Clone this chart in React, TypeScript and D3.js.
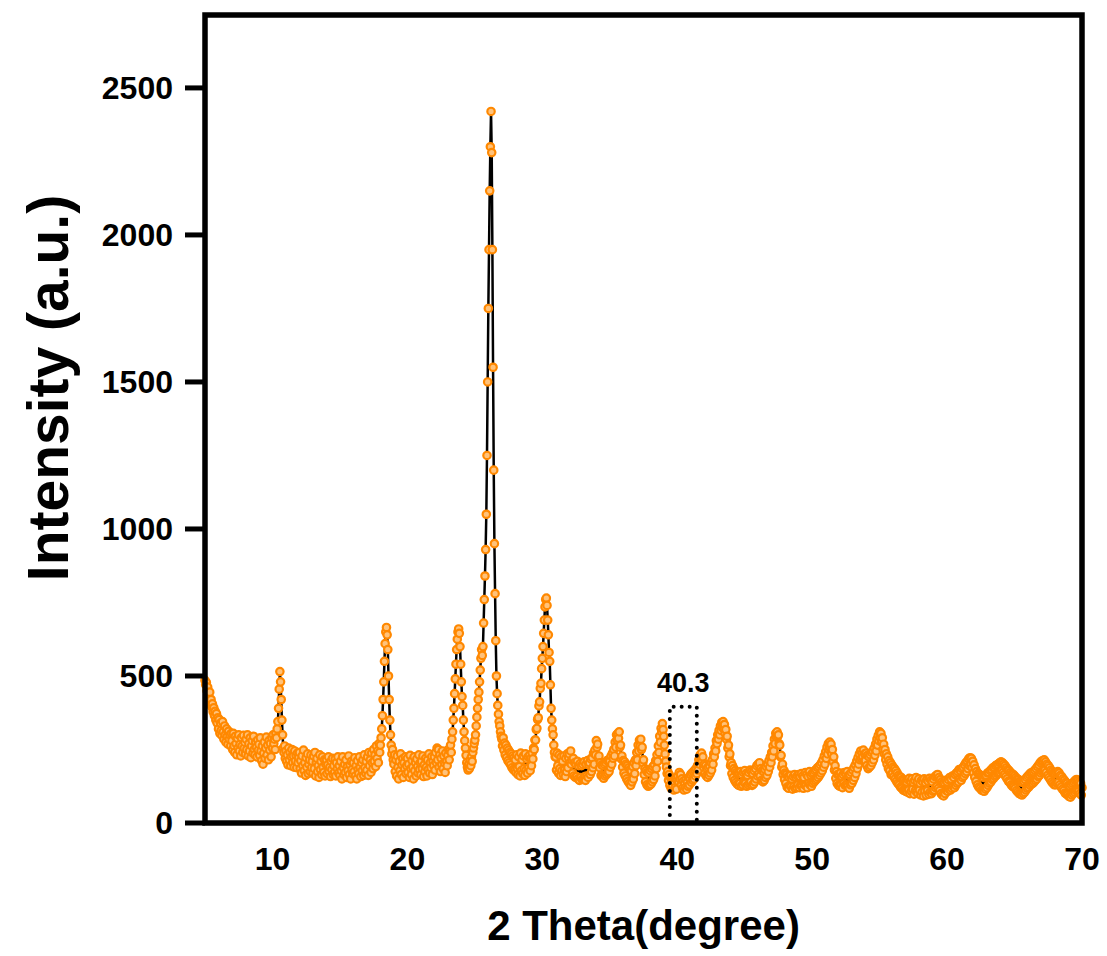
import React from 'react';
import * as d3 from 'd3';

// XRD scan, every 0.05 degree
const startAngle = 5;
const angleStep = 0.05;
const intensity: number[] = [
  // 5
  485, 470, 478, 450, 462, 440, 428, 445, 410, 420, 395, 405, 378, 392, 365, 380, 350, 372, 340, 358,
  // 6
  320, 352, 305, 340, 315, 298, 345, 310, 285, 330, 300, 275, 320, 295, 268, 312, 285, 300, 262, 305,
  // 7
  280, 250, 305, 262, 240, 295, 270, 232, 288, 255, 300, 245, 268, 228, 290, 262, 240, 298, 255, 275,
  // 8
  235, 285, 250, 300, 228, 270, 245, 290, 222, 262, 280, 238, 295, 250, 232, 275, 258, 225, 282, 248,
  // 9
  268, 230, 290, 245, 212, 262, 200, 238, 275, 220, 255, 292, 232, 265, 215, 280, 248, 270, 225, 290,
  // 10
  255, 300, 270, 285, 250, 305, 290, 320, 345, 390, 455, 515, 480, 420, 350, 300, 255, 240, 262, 220,
  // 11
  245, 210, 232, 198, 255, 215, 240, 195, 225, 250, 205, 228, 190, 245, 212, 230, 188, 238, 205, 222,
  // 12
  240, 185, 212, 170, 228, 195, 248, 178, 205, 162, 222, 190, 235, 168, 200, 215, 175, 232, 188, 210,
  // 13
  170, 228, 185, 240, 160, 205, 220, 175, 195, 155, 232, 182, 210, 165, 225, 190, 172, 215, 160, 200,
  // 14
  215, 168, 198, 225, 175, 190, 158, 210, 182, 220, 165, 195, 172, 218, 160, 205, 185, 225, 170, 195,
  // 15
  162, 210, 178, 150, 225, 188, 165, 200, 172, 215, 155, 192, 178, 228, 165, 198, 150, 210, 182, 168,
  // 16
  205, 175, 222, 160, 195, 150, 212, 182, 168, 225, 190, 158, 205, 178, 215, 162, 232, 188, 170, 210,
  // 17
  180, 225, 162, 240, 195, 215, 172, 238, 205, 185, 250, 210, 232, 192, 262, 220, 245, 205, 270, 240,
  // 18
  265, 290, 320, 365, 420, 480, 550, 610, 650, 665, 640, 590, 500, 420, 350, 300, 265, 235, 250, 215,
  // 19
  200, 232, 175, 215, 160, 228, 190, 150, 210, 178, 235, 165, 198, 218, 155, 205, 185, 225, 168, 195,
  // 20
  220, 172, 200, 155, 230, 185, 165, 212, 190, 150, 225, 178, 205, 160, 218, 192, 170, 232, 182, 205,
  // 21
  165, 210, 185, 228, 158, 198, 175, 220, 190, 160, 215, 182, 235, 170, 205, 188, 225, 165, 210, 195,
  // 22
  225, 180, 240, 205, 255, 215, 250, 190, 232, 175, 220, 198, 245, 185, 228, 205, 172, 238, 210, 195,
  // 23
  230, 250, 215, 245, 265, 240, 285, 310, 350, 390, 440, 490, 540, 590, 625, 650, 660, 645, 600, 540,
  // 24
  480, 430, 400, 350, 310, 280, 255, 230, 205, 190, 180, 200, 185, 215, 195, 225, 210, 240, 255, 270,
  // 25
  282, 300, 330, 360, 390, 420, 445, 480, 520, 560, 590, 570, 600, 680, 760, 840, 930, 1050, 1250, 1500,
  // 26
  1750, 1950, 2150, 2300, 2420, 2280, 1950, 1550, 1200, 950, 780, 620, 500, 440, 400, 370, 345, 330, 310, 295,
  // 27
  285, 262, 290, 248, 272, 232, 265, 222, 255, 212, 248, 205, 240, 198, 235, 188, 228, 182, 222, 178,
  // 28
  215, 172, 232, 185, 165, 225, 192, 160, 238, 178, 215, 168, 228, 185, 162, 235, 180, 218, 170, 225,
  // 29
  188, 230, 178, 220, 195, 238, 218, 255, 250, 282, 282, 318, 322, 352, 358, 398, 412, 458, 475, 525,
  // 30
  560, 600, 645, 690, 735, 760, 765, 740, 690, 640, 580, 550, 470, 390, 350, 320, 300, 265, 240, 225,
  // 31
  225, 180, 238, 195, 170, 232, 185, 162, 225, 178, 210, 165, 228, 180, 158, 220, 175, 235, 188, 222,
  // 32
  235, 205, 245, 200, 215, 170, 220, 160, 205, 155, 200, 158, 210, 150, 195, 145, 202, 155, 195, 148,
  // 33
  200, 150, 208, 158, 145, 200, 160, 212, 155, 198, 205, 165, 218, 175, 222, 188, 238, 200, 248, 232,
  // 34
  280, 258, 268, 222, 228, 188, 205, 162, 198, 158, 195, 152, 200, 160, 205, 165, 212, 170, 215, 175,
  // 35
  210, 190, 228, 200, 238, 220, 250, 228, 275, 258, 300, 282, 305, 288, 310, 258, 265, 218, 228, 190,
  // 36
  212, 170, 208, 160, 200, 150, 195, 142, 188, 135, 182, 128, 178, 140, 192, 150, 205, 168, 215, 195,
  // 37
  240, 215, 265, 245, 282, 262, 285, 250, 258, 205, 215, 165, 185, 140, 178, 130, 172, 125, 170, 128,
  // 38
  178, 132, 185, 140, 192, 148, 198, 160, 212, 185, 232, 210, 262, 240, 295, 275, 322, 310, 338, 318,
  // 39
  295, 265, 235, 210, 190, 168, 175, 145, 165, 128, 155, 118, 150, 125, 145, 112, 140, 120, 150, 115,
  // 40
  145, 160, 140, 172, 150, 165, 130, 150, 118, 142, 112, 135, 120, 148, 115, 140, 125, 155, 130, 150,
  // 41
  165, 138, 170, 145, 175, 150, 180, 160, 185, 168, 195, 180, 215, 200, 232, 215, 238, 210, 225, 190,
  // 42
  200, 168, 195, 160, 185, 155, 190, 162, 195, 170, 205, 180, 215, 200, 235, 225, 255, 245, 280, 270,
  // 43
  300, 285, 315, 300, 330, 315, 342, 325, 345, 320, 335, 305, 318, 285, 295, 255, 265, 225, 235, 195,
  // 44
  205, 168, 195, 155, 185, 145, 178, 138, 172, 132, 168, 128, 170, 135, 175, 125, 165, 130, 172, 138,
  // 45
  178, 135, 168, 125, 162, 130, 172, 135, 180, 140, 175, 128, 168, 132, 178, 140, 185, 150, 195, 160,
  // 46
  200, 168, 205, 160, 185, 145, 178, 140, 175, 145, 182, 155, 192, 162, 200, 175, 212, 190, 225, 205,
  // 47
  240, 225, 262, 245, 285, 270, 305, 292, 310, 295, 300, 270, 265, 225, 230, 190, 200, 165, 180, 148,
  // 48
  170, 135, 165, 122, 158, 118, 155, 128, 162, 125, 150, 115, 158, 125, 165, 118, 155, 122, 160, 130,
  // 49
  165, 120, 158, 128, 168, 125, 160, 118, 155, 130, 172, 128, 165, 120, 158, 135, 175, 130, 162, 125,
  // 50
  168, 135, 172, 140, 178, 145, 182, 150, 188, 155, 192, 162, 198, 170, 205, 178, 215, 190, 228, 200,
  // 51
  242, 220, 258, 235, 270, 250, 275, 255, 268, 235, 250, 210, 225, 180, 195, 152, 175, 135, 165, 128,
  // 52
  165, 125, 170, 130, 158, 120, 165, 135, 172, 128, 168, 130, 175, 125, 162, 118, 165, 130, 172, 135,
  // 53
  180, 145, 188, 155, 198, 168, 210, 185, 222, 200, 235, 215, 245, 220, 238, 225, 248, 210, 235, 212,
  // 54
  238, 195, 230, 185, 225, 190, 232, 195, 240, 205, 245, 215, 255, 230, 268, 245, 285, 265, 298, 280,
  // 55
  310, 290, 305, 275, 290, 250, 268, 235, 250, 215, 235, 200, 225, 185, 212, 178, 205, 165, 198, 168,
  // 56
  190, 158, 185, 150, 178, 142, 170, 135, 162, 130, 158, 122, 155, 118, 148, 112, 145, 110, 140, 108,
  // 57
  140, 105, 148, 112, 152, 100, 142, 108, 150, 115, 138, 98, 145, 110, 155, 105, 140, 100, 150, 112,
  // 58
  135, 95, 145, 105, 140, 92, 150, 108, 138, 95, 148, 110, 142, 98, 152, 105, 145, 100, 140, 108,
  // 59
  150, 112, 158, 120, 162, 125, 165, 118, 155, 110, 148, 100, 140, 95, 135, 92, 138, 100, 145, 110,
  // 60
  140, 108, 148, 115, 155, 112, 150, 118, 160, 125, 155, 120, 165, 128, 170, 135, 175, 140, 182, 150,
  // 61
  178, 145, 185, 155, 190, 160, 198, 168, 205, 175, 210, 185, 218, 195, 222, 200, 220, 188, 210, 170,
  // 62
  198, 155, 185, 142, 175, 130, 168, 122, 165, 118, 160, 112, 158, 110, 155, 108, 160, 115, 162, 120,
  // 63
  170, 128, 172, 135, 178, 140, 182, 148, 188, 152, 190, 158, 195, 162, 198, 168, 200, 170, 205, 172,
  // 64
  208, 178, 205, 172, 200, 165, 195, 158, 188, 150, 182, 142, 178, 138, 172, 130, 168, 125, 165, 122,
  // 65
  160, 118, 155, 110, 150, 105, 148, 100, 142, 98, 140, 95, 138, 100, 142, 105, 148, 112, 155, 118,
  // 66
  160, 122, 165, 128, 170, 132, 172, 135, 175, 140, 180, 145, 185, 150, 192, 158, 198, 162, 205, 170,
  // 67
  210, 175, 212, 178, 215, 180, 208, 172, 200, 162, 195, 155, 188, 148, 180, 140, 175, 135, 170, 130,
  // 68
  168, 130, 172, 135, 175, 138, 170, 130, 162, 122, 158, 115, 150, 110, 145, 102, 138, 98, 135, 95,
  // 69
  128, 90, 125, 88, 130, 95, 135, 100, 140, 105, 145, 110, 148, 112, 145, 108, 140, 100, 135, 95,
  // 70
  120,
];

const xTicks = [10, 20, 30, 40, 50, 60, 70];
const yTicks = [0, 500, 1000, 1500, 2000, 2500];

const markLabel = '40.3';
const markFrom = 39.45;
const markTo = 41.45;
const markTop = 395;

const W = 1107;
const H = 956;
const left = 205;
const right = 1082;
const top = 15;
const bottom = 823;
const font = '"Liberation Sans", Arial, Helvetica, sans-serif';
const orange = '#ff8800';

export default function App() {
  const x = d3.scaleLinear().domain([5, 70]).range([left, right]);
  const y = d3.scaleLinear().domain([0, 2748]).range([bottom, top]);

  const pts: [number, number][] = intensity.map((v, i) => [startAngle + i * angleStep, v]);
  const line = d3
    .line<[number, number]>()
    .x((d) => x(d[0]))
    .y((d) => y(d[1]));

  const mx0 = x(markFrom);
  const mx1 = x(markTo);
  const my = y(markTop);

  return (
    <div style={{ position: 'absolute', left: 0, top: 0 }}>
      <svg width={W} height={H} style={{ display: 'block', background: '#fff' }}>
        {/* series */}
        <path d={line(pts) ?? ''} fill="none" stroke="#000" strokeWidth={2.5} />
        <g>
          {pts.map((d, i) => (
            <circle
              key={i}
              cx={x(d[0])}
              cy={y(d[1])}
              r={3.7}
              fill="#ffc27a"
              stroke={orange}
              strokeWidth={2.2}
            />
          ))}
        </g>

        {/* dotted box */}
        <path
          d={`M${mx0},${bottom} V${my} H${mx1} V${bottom}`}
          fill="none"
          stroke="#000"
          strokeWidth={4}
          strokeDasharray="0 8"
          strokeLinecap="round"
        />
        <text
          x={(mx0 + mx1) / 2}
          y={692}
          textAnchor="middle"
          fontFamily={font}
          fontWeight="bold"
          fontSize={27}
          fill="#000"
        >
          {markLabel}
        </text>

        {/* frame */}
        <rect x={left} y={top} width={right - left} height={bottom - top} fill="none" stroke="#000" strokeWidth={5.5} />

        {/* y axis ticks */}
        {yTicks.map((t) => (
          <g key={t}>
            <line x1={left - 20} x2={left} y1={y(t)} y2={y(t)} stroke="#000" strokeWidth={5} />
            <text
              x={173}
              y={y(t)}
              dy="0.35em"
              textAnchor="end"
              fontFamily={font}
              fontWeight="bold"
              fontSize={32}
              fill="#000"
            >
              {t}
            </text>
          </g>
        ))}

        {/* x axis labels */}
        {xTicks.map((t) => (
          <text
            key={t}
            x={x(t)}
            y={870}
            textAnchor="middle"
            fontFamily={font}
            fontWeight="bold"
            fontSize={32}
            fill="#000"
          >
            {t}
          </text>
        ))}

        <text
          x={(left + right) / 2}
          y={940}
          textAnchor="middle"
          fontFamily={font}
          fontWeight="bold"
          fontSize={42}
          fill="#000"
        >
          2 Theta(degree)
        </text>
        <text
          transform={`translate(68,388) rotate(-90)`}
          textAnchor="middle"
          fontFamily={font}
          fontWeight="bold"
          fontSize={57}
          fill="#000"
        >
          Intensity (a.u.)
        </text>
      </svg>
    </div>
  );
}
